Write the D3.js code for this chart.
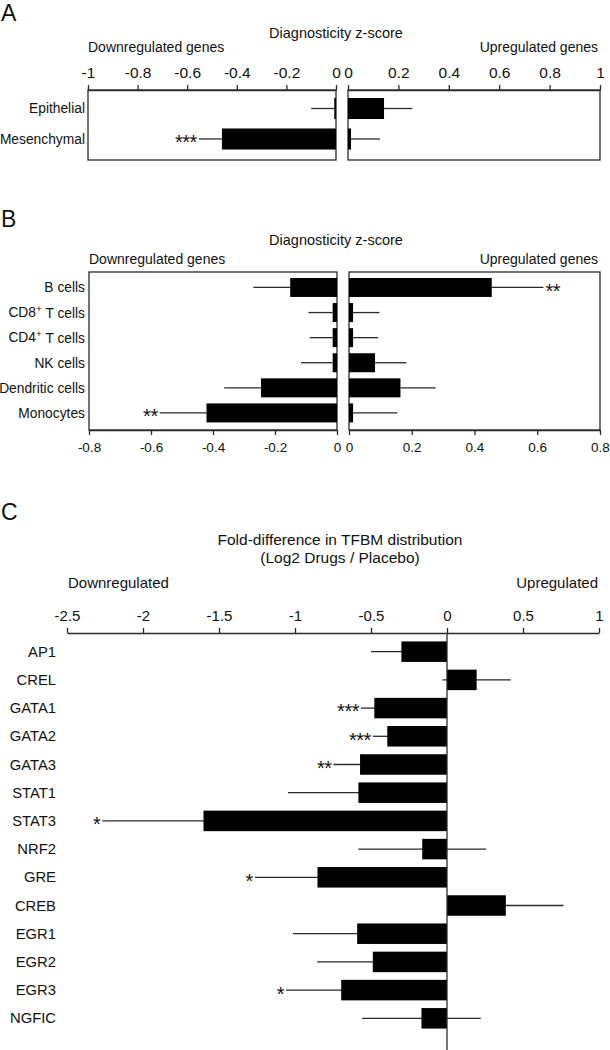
<!DOCTYPE html>
<html>
<head>
<meta charset="utf-8">
<script src="https://cdn.jsdelivr.net/npm/d3@7/dist/d3.min.js"></script>
<style>
  html, body { margin: 0; padding: 0; background: #fff; }
  svg { display: block; }
  text { font-family: "Liberation Sans", Arial, Helvetica, sans-serif; fill: #111; }
</style>
</head>
<body>
<svg id="chart" width="610" height="1050"></svg>
<script>
// ---------------- Panel A data ----------------
const catsA = ["Epithelial", "Mesenchymal"];
const downA = [-0.007, -0.46];
const downErrA = [0.093, 0.093];
const upA = [0.143, 0.012];
const upErrA = [0.112, 0.115];
const sigDownA = ["", "***"];
const sigUpA = ["", ""];
const ticksLeftA = [-1, -0.8, -0.6, -0.4, -0.2, 0];
const ticksRightA = [0, 0.2, 0.4, 0.6, 0.8, 1];

// ---------------- Panel B data ----------------
const catsB = ["B cells", "CD8+ T cells", "CD4+ T cells", "NK cells", "Dendritic cells", "Monocytes"];
const downB = [-0.151, -0.014, -0.014, -0.014, -0.245, -0.421];
const downErrB = [0.119, 0.078, 0.074, 0.102, 0.119, 0.151];
const upB = [0.455, 0.013, 0.013, 0.083, 0.164, 0.013];
const upErrB = [0.165, 0.084, 0.080, 0.100, 0.112, 0.141];
const sigDownB = ["", "", "", "", "", "**"];
const sigUpB = ["**", "", "", "", "", ""];
const ticksLeftB = [-0.8, -0.6, -0.4, -0.2, 0];
const ticksRightB = [0, 0.2, 0.4, 0.6, 0.8];

// ---------------- Panel C data ----------------
const catsC = ["AP1", "CREL", "GATA1", "GATA2", "GATA3", "STAT1", "STAT3", "NRF2", "GRE", "CREB", "EGR1", "EGR2", "EGR3", "NGFIC"];
const valC = [-0.30, 0.195, -0.478, -0.393, -0.572, -0.583, -1.602, -0.163, -0.852, 0.387, -0.591, -0.488, -0.696, -0.168];
const errC = [0.20, 0.225, 0.088, 0.095, 0.175, 0.463, 0.666, 0.42, 0.412, 0.379, 0.422, 0.367, 0.363, 0.39];
const sigC = ["", "", "***", "***", "**", "", "*", "", "*", "", "", "", "*", ""];
const ticksC = [-2.5, -2, -1.5, -1, -0.5, 0, 0.5, 1];

const svg = d3.select("#chart");
const LINE = "#2a2a2a";
const FONT = '"Liberation Sans", Arial, Helvetica, sans-serif';

function panelLetter(t, x, y) {
  svg.append("text").attr("x", x).attr("y", y).attr("font-size", 23).text(t);
}

function styleAxis(g, fs) {
  g.selectAll("line").attr("stroke", LINE).attr("stroke-width", 1.3);
  g.selectAll("path").attr("stroke", LINE).attr("stroke-width", 1.3);
  g.selectAll("text").attr("font-size", fs).attr("font-family", FONT).attr("fill", "#111");
}

function catLabel(g, label, x, y, fs) {
  const t = g.append("text").attr("x", x).attr("y", y).attr("dy", "0.35em")
    .attr("text-anchor", "end").attr("font-size", fs);
  const m = label.match(/^(CD\d)\+(.*)$/);
  if (m) {
    t.append("tspan").text(m[1]);
    t.append("tspan").attr("font-size", fs * 0.72).attr("dy", "-0.55em").text("+");
    t.append("tspan").attr("dy", "0.42em").text(m[2]);
  } else {
    t.text(label);
  }
}

function stars(g, s, x, y, anchor, fs) {
  if (!s) return;
  g.append("text").attr("x", x).attr("y", y + fs * 0.52).attr("text-anchor", anchor)
    .attr("font-size", fs).attr("letter-spacing", -0.5).text(s);
}

// Draws the split (down / up) diverging panel
function splitPanel(opts) {
  const g = svg.append("g");
  const xL = d3.scaleLinear().domain([opts.ticksLeft[0], 0]).range([opts.x0, opts.x1]);
  const xR = d3.scaleLinear().domain([0, opts.ticksRight[opts.ticksRight.length - 1]]).range([opts.x2, opts.x3]);
  const y = d3.scaleBand().domain(opts.cats).range(opts.yRange).paddingInner(opts.padIn).paddingOuter(opts.padOut);
  const bw = y.bandwidth();

  // boxes
  [[opts.x0, opts.x1], [opts.x2, opts.x3]].forEach(([a, b]) => {
    g.append("rect").attr("x", a).attr("y", opts.top).attr("width", b - a)
      .attr("height", opts.bottom - opts.top).attr("fill", "none")
      .attr("stroke", LINE).attr("stroke-width", 1.3);
  });

  // axes
  const axisFn = opts.axisTop ? d3.axisTop : d3.axisBottom;
  const ay = opts.axisTop ? opts.top : opts.bottom;
  const aL = g.append("g").attr("transform", `translate(0,${ay})`)
    .call(axisFn(xL).tickValues(opts.ticksLeft).tickFormat(d => String(d)).tickSize(5).tickSizeOuter(0).tickPadding(opts.tickPad));
  const aR = g.append("g").attr("transform", `translate(0,${ay})`)
    .call(axisFn(xR).tickValues(opts.ticksRight).tickFormat(d => String(d)).tickSize(5).tickSizeOuter(0).tickPadding(opts.tickPad));
  styleAxis(aL, opts.tickFs); styleAxis(aR, opts.tickFs);

  opts.cats.forEach((c, i) => {
    const cy = y(c) + bw / 2;
    // down side
    const vd = opts.down[i];
    const ed = vd - opts.downErr[i];
    g.append("line").attr("x1", xL(vd)).attr("x2", xL(ed)).attr("y1", cy).attr("y2", cy)
      .attr("stroke", LINE).attr("stroke-width", 1.3);
    g.append("rect").attr("x", xL(vd)).attr("y", y(c)).attr("width", xL(0) - xL(vd)).attr("height", bw).attr("fill", "#000");
    stars(g, opts.sigDown[i], xL(ed) - 2, cy, "end", opts.starFs);
    // up side
    const vu = opts.up[i];
    const eu = vu + opts.upErr[i];
    g.append("line").attr("x1", xR(vu)).attr("x2", xR(eu)).attr("y1", cy).attr("y2", cy)
      .attr("stroke", LINE).attr("stroke-width", 1.3);
    g.append("rect").attr("x", xR(0)).attr("y", y(c)).attr("width", xR(vu) - xR(0)).attr("height", bw).attr("fill", "#000");
    stars(g, opts.sigUp[i], xR(eu) + 2, cy, "start", opts.starFs);
    catLabel(g, c, opts.labelX, cy, opts.catFs);
  });

  // titles
  g.append("text").attr("x", opts.titleX).attr("y", opts.titleY).attr("dy", "0.35em")
    .attr("text-anchor", "middle").attr("font-size", 14.5).text("Diagnosticity z-score");
  g.append("text").attr("x", opts.x0).attr("y", opts.subY).attr("dy", "0.35em")
    .attr("font-size", 14).text("Downregulated genes");
  g.append("text").attr("x", 598).attr("y", opts.subY).attr("dy", "0.35em")
    .attr("text-anchor", "end").attr("font-size", 14).text("Upregulated genes");
}

// ---------- Panel A ----------
panelLetter("A", 1, 21);
splitPanel({
  cats: catsA, down: downA, downErr: downErrA, up: upA, upErr: upErrA,
  sigDown: sigDownA, sigUp: sigUpA, ticksLeft: ticksLeftA, ticksRight: ticksRightA,
  x0: 88, x1: 336, x2: 348, x3: 600, top: 90, bottom: 160,
  yRange: [93.4, 154.1], padIn: 0.31, padOut: 0.15,
  axisTop: true, tickPad: 7, tickFs: 15.5, catFs: 13.8, starFs: 20,
  labelX: 85, titleX: 336, titleY: 33, subY: 47
});

// ---------- Panel B ----------
panelLetter("B", 1, 227);
splitPanel({
  cats: catsB, down: downB, downErr: downErrB, up: upB, upErr: upErrB,
  sigDown: sigDownB, sigUp: sigUpB, ticksLeft: ticksLeftB, ticksRight: ticksRightB,
  x0: 89, x1: 337, x2: 349, x3: 600, top: 272, bottom: 430,
  yRange: [274.2, 426.2], padIn: 0.243, padOut: 0.15,
  axisTop: false, tickPad: 7, tickFs: 13.5, catFs: 13.8, starFs: 20,
  labelX: 85, titleX: 336, titleY: 240, subY: 259
});

// ---------- Panel C ----------
panelLetter("C", 1, 520);
(function () {
  const g = svg.append("g");
  const axisY = 633;
  const x = d3.scaleLinear().domain([ticksC[0], ticksC[ticksC.length - 1]]).range([67, 599]);
  const y = d3.scaleBand().domain(catsC).range([637.2, 1032.8]).paddingInner(0.273).paddingOuter(0.15);
  const bw = y.bandwidth();

  g.append("text").attr("x", 340).attr("y", 540).attr("dy", "0.35em").attr("text-anchor", "middle")
    .attr("font-size", 15.5).text("Fold-difference in TFBM distribution");
  g.append("text").attr("x", 340).attr("y", 558).attr("dy", "0.35em").attr("text-anchor", "middle")
    .attr("font-size", 15.5).text("(Log2 Drugs / Placebo)");
  g.append("text").attr("x", 68).attr("y", 583).attr("dy", "0.35em").attr("font-size", 15).text("Downregulated");
  g.append("text").attr("x", 598).attr("y", 583).attr("dy", "0.35em").attr("text-anchor", "end").attr("font-size", 15).text("Upregulated");

  const ax = g.append("g").attr("transform", `translate(0,${axisY})`)
    .call(d3.axisTop(x).tickValues(ticksC).tickFormat(d => String(d)).tickSize(5).tickSizeOuter(0).tickPadding(7));
  styleAxis(ax, 15);

  catsC.forEach((c, i) => {
    const cy = y(c) + bw / 2;
    const v = valC[i];
    const lo = v - errC[i], hi = v + errC[i];
    g.append("line").attr("x1", x(lo)).attr("x2", x(hi)).attr("y1", cy).attr("y2", cy)
      .attr("stroke", LINE).attr("stroke-width", 1.3);
    g.append("rect").attr("x", Math.min(x(v), x(0))).attr("y", y(c))
      .attr("width", Math.abs(x(v) - x(0))).attr("height", bw).attr("fill", "#000");
    if (sigC[i]) {
      const sx = v < 0 ? x(lo) - 2 : x(hi) + 2;
      stars(g, sigC[i], sx, cy, v < 0 ? "end" : "start", 20);
    }
    catLabel(g, c, 56, cy, 14.8);
  });

  // zero line
  g.append("line").attr("x1", x(0)).attr("x2", x(0)).attr("y1", axisY).attr("y2", 1050)
    .attr("stroke", LINE).attr("stroke-width", 1.3);
})();
</script>
</body>
</html>
